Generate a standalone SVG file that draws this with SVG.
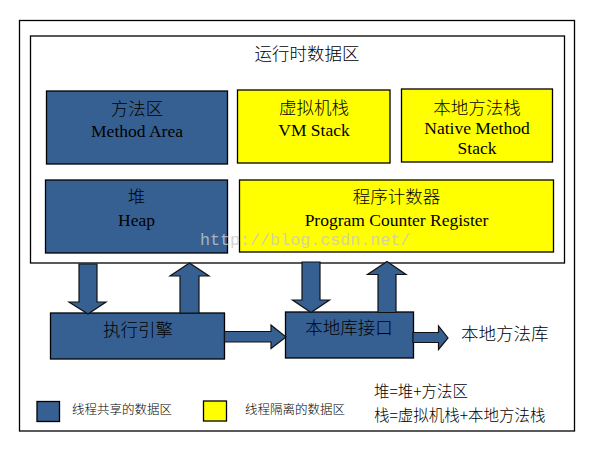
<svg xmlns="http://www.w3.org/2000/svg" width="591" height="456" viewBox="0 0 591 456">
<style>
.frame{fill:#fff;stroke:#000;stroke-width:1.3}
.blue{fill:#376092;stroke:#000;stroke-width:1.3}
.yellow{fill:#ffff00;stroke:#000;stroke-width:1.3}
.arr{fill:#376092;stroke:#111;stroke-width:1.2;stroke-linejoin:miter}
.t{font-family:"Liberation Serif",serif;font-size:17.5px;fill:#000;text-anchor:middle}
.c{font-family:"Noto Sans CJK SC","Noto Sans",sans-serif;font-weight:300;font-size:17.5px;fill:#000}
.lg{font-family:"Noto Sans CJK SC","Noto Sans",sans-serif;font-weight:300;font-size:12.5px;fill:#000}
.eq{font-family:"Noto Sans CJK SC","Noto Sans",sans-serif;font-weight:300;font-size:15.5px;fill:#000}
.wm{font-family:"Liberation Mono",monospace;font-size:16.7px;fill:#c8c8c8;fill-opacity:0.8}
</style>
<rect x="0" y="0" width="591" height="456" fill="#fff"/>
<g id="outer-frame"><rect class="frame" x="19.5" y="20.5" width="555" height="410.5"/></g>
<g id="runtime-data-area">
<rect class="frame" x="30.5" y="36" width="534" height="227"/>
<text class="c" x="307" y="60" text-anchor="middle">运行时数据区</text>
</g>
<g id="method-area">
<rect class="blue" x="46.5" y="91" width="181" height="73"/>
<text class="c" x="137" y="115" text-anchor="middle">方法区</text>
<text class="t" x="137" y="136.5">Method Area</text>
</g>
<g id="vm-stack">
<rect class="yellow" x="237.5" y="90" width="152.5" height="73"/>
<text class="c" x="314" y="114" text-anchor="middle">虚拟机栈</text>
<text class="t" x="314" y="135.5">VM Stack</text>
</g>
<g id="native-method-stack">
<rect class="yellow" x="401.5" y="89" width="151" height="73"/>
<text class="c" x="477" y="113.5" text-anchor="middle">本地方法栈</text>
<text class="t" x="477" y="134">Native Method</text>
<text class="t" x="477" y="154">Stack</text>
</g>
<g id="heap">
<rect class="blue" x="45.5" y="180" width="182" height="73"/>
<text class="c" x="136.5" y="203" text-anchor="middle">堆</text>
<text class="t" x="136.5" y="226">Heap</text>
</g>
<g id="pc-register">
<rect class="yellow" x="239.5" y="180" width="314" height="72"/>
<text class="c" x="396.5" y="203" text-anchor="middle">程序计数器</text>
<text class="t" x="396.5" y="226">Program Counter Register</text>
</g>
<g id="execution-engine">
<rect class="blue" x="50.5" y="313" width="174" height="46"/>
<text class="c" x="138" y="336" text-anchor="middle">执行引擎</text>
</g>
<g id="native-interface">
<rect class="blue" x="285.5" y="312" width="128" height="46"/>
<text class="c" x="349" y="334" text-anchor="middle">本地库接口</text>
</g>
<g id="native-library">
<text class="c" x="461" y="340">本地方法库</text>
</g>
<g id="connectors">
<polygon class="arr" points="79,264 97,264 97,302 106,302 88,314 69,302 79,302"/>
<polygon class="arr" points="180,313 199,313 199,276 209,276 189.5,263 170,276 180,276"/>
<polygon class="arr" points="302,262 320,262 320,300 329.5,300 311,312.5 292.5,300 302,300"/>
<polygon class="arr" points="378,312.5 396,312.5 396,274.5 406,274.5 387,261.5 367.5,274.5 378,274.5"/>
<polygon class="arr" points="224.5,331.5 271,331.5 271,325 286,337 271,348.5 271,342 224.5,342"/>
<polygon class="arr" points="413,332.5 438.5,332.5 438.5,326 448,338 438.5,349.5 438.5,342.5 413,342.5"/>
</g>
<g id="watermark"><text class="wm" x="200" y="245">http://blog.csdn.net/</text></g>
<g id="legend-shared">
<rect class="blue" x="37" y="401.5" width="22.5" height="20"/>
<text class="lg" x="72" y="414">线程共享的数据区</text>
</g>
<g id="legend-isolated">
<rect class="yellow" x="203.5" y="401" width="23" height="20"/>
<text class="lg" x="245" y="414">线程隔离的数据区</text>
</g>
<g id="legend-notes">
<text class="eq" x="374" y="397">堆=堆+方法区</text>
<text class="eq" x="374" y="420.5">栈=虚拟机栈+本地方法栈</text>
</g>
</svg>
